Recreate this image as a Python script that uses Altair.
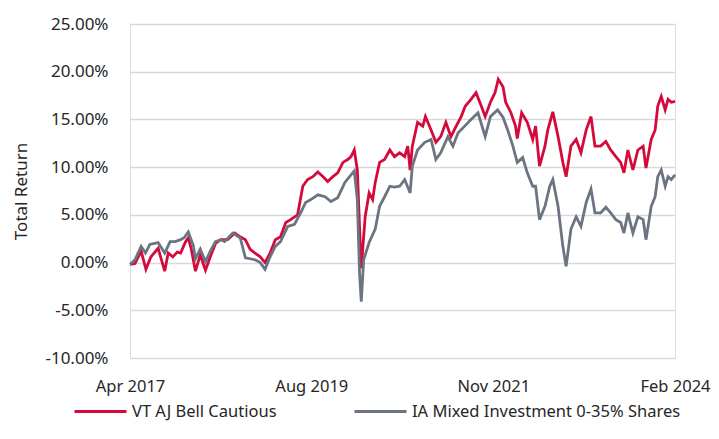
import altair as alt
import pandas as pd

SERIES = ["VT AJ Bell Cautious", "IA Mixed Investment 0-35% Shares"]
COLORS = ["#D50A3C", "#6B7480"]

red_dates = [
    "2017-04-28", "2017-05-21", "2017-06-18", "2017-07-10", "2017-08-02", "2017-09-04",
    "2017-10-04", "2017-10-20", "2017-11-10", "2017-12-01", "2017-12-16", "2018-01-06",
    "2018-01-20", "2018-02-03", "2018-02-22", "2018-03-16", "2018-04-09", "2018-05-01",
    "2018-05-25", "2018-06-18", "2018-07-20", "2018-08-21", "2018-09-15", "2018-10-09",
    "2018-10-30", "2018-11-22", "2018-12-16", "2019-01-07", "2019-01-30", "2019-02-23",
    "2019-03-19", "2019-04-12", "2019-05-04", "2019-06-05", "2019-06-29", "2019-07-21",
    "2019-08-14", "2019-09-06", "2019-09-30", "2019-10-21", "2019-11-14", "2019-12-06",
    "2019-12-30", "2020-01-21", "2020-02-05", "2020-02-20", "2020-03-05", "2020-03-15",
    "2020-03-23", "2020-04-10", "2020-04-28", "2020-05-14", "2020-05-26", "2020-06-15",
    "2020-07-08", "2020-08-01", "2020-08-22", "2020-09-15", "2020-10-08", "2020-10-22",
    "2020-11-02", "2020-11-12", "2020-12-06", "2020-12-30", "2021-01-11", "2021-02-06",
    "2021-02-28", "2021-03-22", "2021-04-15", "2021-05-08", "2021-06-01", "2021-06-24",
    "2021-07-13", "2021-08-08", "2021-08-31", "2021-09-24", "2021-10-12", "2021-11-05",
    "2021-11-26", "2021-12-11", "2022-01-02", "2022-01-14", "2022-02-07", "2022-02-28",
    "2022-03-08", "2022-03-28", "2022-04-23", "2022-05-18", "2022-05-31", "2022-06-18",
    "2022-07-13", "2022-07-26", "2022-08-18", "2022-09-11", "2022-10-03", "2022-10-18",
    "2022-11-09", "2022-12-03", "2022-12-25", "2023-01-18", "2023-02-09", "2023-02-27",
    "2023-03-25", "2023-04-18", "2023-05-10", "2023-06-03", "2023-06-25", "2023-07-10",
    "2023-07-28", "2023-08-20", "2023-09-12", "2023-10-06", "2023-10-19", "2023-11-12",
    "2023-11-30", "2023-12-12", "2023-12-28", "2024-01-15", "2024-01-28", "2024-02-12",
    "2024-02-29",
]
red_values = [
    -0.2, -0.1, 1.2, -0.7, 0.6, 1.5,
    -0.9, 1.0, 0.6, 1.1, 1.0, 2.1,
    2.6, 1.4, -0.9, 0.8, -0.8, 0.6,
    2.0, 2.4, 2.4, 3.1, 2.7, 2.4,
    1.4, 1.0, 0.6, 0.0, 1.0, 2.4,
    2.7, 4.2, 4.5, 5.0, 8.0, 8.7,
    9.0, 9.5, 9.0, 8.5, 9.0, 9.4,
    10.5, 10.8, 11.1, 11.8, 9.7, 3.8,
    -0.6, 4.8, 7.3, 6.6, 8.4, 10.5,
    10.8, 11.8, 11.1, 11.5, 11.1, 12.2,
    9.7, 12.2, 14.7, 14.3, 15.3, 13.9,
    12.6, 13.2, 14.7, 13.2, 14.3, 15.3,
    16.4, 17.1, 17.8, 16.4, 15.3, 16.8,
    17.8, 19.2, 18.4, 16.8, 15.7, 14.3,
    13.0, 15.7, 14.7, 12.9, 14.3, 10.1,
    12.2, 13.9, 15.8, 13.2, 10.5, 9.0,
    12.2, 12.9, 11.5, 13.9, 15.3, 12.2,
    12.2, 12.7, 11.8, 11.1, 10.5, 9.4,
    11.8, 9.7, 11.8, 12.2, 9.9, 12.9,
    13.9, 16.4, 17.4, 16.0, 17.1, 16.8,
    16.9,
]

grey_dates = [
    "2017-04-28", "2017-05-21", "2017-06-18", "2017-07-08", "2017-07-28", "2017-09-04",
    "2017-10-04", "2017-10-29", "2017-11-21", "2017-12-16", "2018-01-01", "2018-01-20",
    "2018-02-12", "2018-02-22", "2018-03-16", "2018-04-09", "2018-05-01", "2018-05-25",
    "2018-06-18", "2018-07-06", "2018-08-12", "2018-09-15", "2018-10-09", "2018-11-22",
    "2018-12-16", "2019-01-07", "2019-01-30", "2019-02-23", "2019-03-19", "2019-04-21",
    "2019-05-22", "2019-06-19", "2019-07-12", "2019-08-05", "2019-09-06", "2019-10-09",
    "2019-11-05", "2019-12-06", "2020-01-08", "2020-02-05", "2020-02-20", "2020-03-05",
    "2020-03-15", "2020-03-23", "2020-04-03", "2020-04-28", "2020-05-26", "2020-06-15",
    "2020-07-08", "2020-08-01", "2020-08-22", "2020-09-15", "2020-10-08", "2020-11-02",
    "2020-11-12", "2020-12-06", "2021-01-08", "2021-02-06", "2021-02-28", "2021-03-22",
    "2021-04-24", "2021-05-17", "2021-06-10", "2021-07-10", "2021-08-08", "2021-09-09",
    "2021-10-12", "2021-11-05", "2021-12-08", "2022-01-02", "2022-01-23", "2022-02-16",
    "2022-03-08", "2022-04-02", "2022-04-23", "2022-05-18", "2022-05-31", "2022-06-18",
    "2022-07-13", "2022-08-04", "2022-08-18", "2022-09-11", "2022-10-03", "2022-10-18",
    "2022-11-09", "2022-12-03", "2022-12-25", "2023-01-18", "2023-02-09", "2023-02-27",
    "2023-03-25", "2023-04-18", "2023-05-10", "2023-06-03", "2023-06-25", "2023-07-10",
    "2023-07-28", "2023-08-20", "2023-09-12", "2023-10-06", "2023-10-19", "2023-11-12",
    "2023-11-30", "2023-12-12", "2023-12-28", "2024-01-15", "2024-01-28", "2024-02-12",
    "2024-02-29",
]
grey_values = [
    -0.2, 0.3, 1.7, 1.0, 1.9, 2.1,
    1.0, 2.2, 2.2, 2.4, 2.6, 3.2,
    1.8, 0.4, 1.4, 0.1, 1.2, 2.2,
    2.4, 2.2, 3.1, 2.6, 0.5, 0.3,
    0.0, -0.7, 0.6, 1.7, 2.2, 3.8,
    4.0, 5.2, 6.3, 6.6, 7.1, 6.9,
    6.4, 6.8, 8.4, 9.2, 9.6, 6.6,
    -1.0, -4.1, 0.3, 2.1, 3.5, 5.9,
    6.9, 8.0, 7.9, 8.0, 8.7, 7.3,
    10.1, 11.8, 12.6, 12.9, 10.8, 11.5,
    13.2, 12.2, 13.6, 14.3, 15.0, 15.7,
    13.2, 15.3, 16.0, 15.2, 13.9, 12.2,
    10.5, 11.0, 9.4, 8.0, 8.0, 4.5,
    5.9, 8.0, 8.7, 5.9, 1.7, -0.4,
    3.5, 4.8, 3.8, 6.3, 7.7, 5.2,
    5.2, 5.8, 5.2, 4.5, 4.2, 3.1,
    5.2, 3.1, 4.8, 4.5, 2.4, 5.9,
    6.9, 9.0, 9.7, 8.0, 9.0, 8.7,
    9.2,
]

y_ticks = [-0.10, -0.05, 0.0, 0.05, 0.10, 0.15, 0.20, 0.25]

df = pd.concat([
    pd.DataFrame({"date": red_dates, "pct": red_values, "series": SERIES[0]}),
    pd.DataFrame({"date": grey_dates, "pct": grey_values, "series": SERIES[1]}),
], ignore_index=True)
df["ret"] = df["pct"] / 100.0

FONT = "Noto Sans"
TXT = "#262626"

x_start = alt.DateTime(year=2017, month=4, date=28)
x_end = alt.DateTime(year=2024, month=2, date=29)
x_ticks = [
    x_start,
    alt.DateTime(year=2019, month=8, date=7),
    alt.DateTime(year=2021, month=11, date=18),
    x_end,
]

base = alt.Chart(df).mark_line(strokeWidth=2.8).encode(
    x=alt.X(
        "date:T",
        scale=alt.Scale(domain=[x_start, x_end]),
        axis=alt.Axis(
            title=None, values=x_ticks, format="%b %Y", labelFlush=False,
            labelOverlap=False, grid=False, ticks=False, domain=False,
            labelPadding=20, labelFontSize=16.5, labelFont=FONT, labelColor=TXT,
        ),
    ),
    y=alt.Y(
        "ret:Q",
        scale=alt.Scale(domain=[-0.10, 0.25], nice=False, zero=False),
        axis=alt.Axis(
            title="Total Return", values=y_ticks,
            labelExpr="replace(format(datum.value, '.2%'), '\u2212', '-')",
            ticks=False, domain=False, gridColor="#D9D9D9", gridWidth=1.5,
            labelPadding=22, labelFontSize=17, labelFont=FONT, labelColor=TXT,
            titleFontSize=17, titleFont=FONT, titleColor=TXT, titleFontWeight="normal",
            titlePadding=14,
        ),
    ),
    color=alt.Color(
        "series:N",
        scale=alt.Scale(domain=SERIES, range=COLORS),
        legend=alt.Legend(
            title=None, orient="none", legendX=-57, legendY=360,
            direction="horizontal", columns=2, symbolType="stroke",
            symbolSize=2704, symbolStrokeWidth=3, labelFontSize=16.5,
            labelFont=FONT, labelColor=TXT, columnPadding=71, labelOffset=4,
            labelLimit=0,
        ),
    ),
)

red_layer = base.transform_filter(alt.datum.series == SERIES[0])
grey_layer = base.transform_filter(alt.datum.series == SERIES[1])

chart = alt.layer(red_layer, grey_layer).properties(
    width=545,
    height=334,
    autosize=alt.AutoSizeParams(type="none"),
    padding={"left": 122, "top": 16, "right": 36, "bottom": 73},
).configure_view(stroke=None).configure(background="white")

chart.save("out.html", embed_options={"renderer": "svg", "actions": False})
